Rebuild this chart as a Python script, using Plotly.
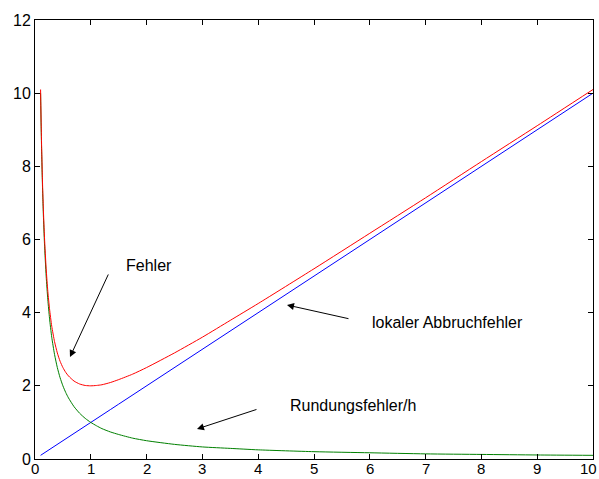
import plotly.graph_objects as go

# step size h and the three error curves
h = [0.1, 0.11, 0.12, 0.13, 0.14, 0.15, 0.17, 0.2, 0.23, 0.26, 0.3, 0.35, 0.4,
     0.45, 0.5, 0.55, 0.6, 0.7, 0.8, 0.9, 1.0, 1.1, 1.2, 1.35, 1.5, 1.75, 2.0,
     2.5, 3.0, 3.5, 4.0, 5.0, 6.0, 7.0, 8.0, 9.0, 10.0]
abbruchfehler = h[:]  # local truncation error
rundungsfehler = [10.0, 9.09, 8.33, 7.69, 7.14, 6.67, 5.88, 5.0, 4.35, 3.85, 3.33,
                  2.86, 2.5, 2.22, 2.0, 1.82, 1.67, 1.43, 1.25, 1.11, 1.0, 0.91,
                  0.83, 0.74, 0.67, 0.57, 0.5, 0.4, 0.33, 0.29, 0.25, 0.2, 0.17,
                  0.14, 0.125, 0.11, 0.1]
fehler = [10.1, 9.2, 8.45, 7.82, 7.28, 6.82, 6.05, 5.2, 4.58, 4.11, 3.63, 3.21,
          2.9, 2.67, 2.5, 2.37, 2.27, 2.13, 2.05, 2.01, 2.0, 2.01, 2.03, 2.09,
          2.17, 2.32, 2.5, 2.9, 3.33, 3.79, 4.25, 5.2, 6.17, 7.14, 8.13, 9.11, 10.1]

x_ticks = [0, 1, 2, 3, 4, 5, 6, 7, 8, 9, 10]
y_ticks = [0, 2, 4, 6, 8, 10, 12]

FONT = "Liberation Sans, Arial, sans-serif"

fig = go.Figure()
fig.add_trace(go.Scatter(x=h, y=abbruchfehler, mode="lines",
                         line=dict(color="#0000ff", width=1)))
fig.add_trace(go.Scatter(x=h, y=rundungsfehler, mode="lines",
                         line=dict(color="#008000", width=1, shape="spline", smoothing=0.6)))
fig.add_trace(go.Scatter(x=h, y=fehler, mode="lines",
                         line=dict(color="#ff0000", width=1, shape="spline", smoothing=0.6)))

# text labels
labels = [
    ("Fehler", 1.595, 5.30),
    ("lokaler Abbruchfehler", 6.0, 3.72),
    ("Rundungsfehler/h", 4.53, 1.45),
]
for txt, lx, ly in labels:
    fig.add_annotation(x=lx, y=ly, text=txt, showarrow=False, xanchor="left",
                       yanchor="middle", font=dict(family=FONT, size=16, color="#000000"))

# arrows: (tail x, tail y, head x, head y)
arrows = [
    (1.326, 5.085, 0.627, 2.788),
    (5.645, 3.827, 4.516, 4.21),
    (3.996, 1.367, 2.903, 0.82),
]
for tx, ty, hx, hy in arrows:
    fig.add_annotation(x=hx, y=hy, ax=tx, ay=ty, xref="x", yref="y",
                       axref="x", ayref="y", text="", showarrow=True,
                       arrowhead=2, arrowsize=1.4, arrowwidth=1, arrowcolor="#000000")

# x tick labels placed tight under the axis so they fit the short bottom strip
for v in x_ticks:
    fig.add_annotation(x=v, y=0, xref="x", yref="paper", text=str(v), showarrow=False,
                       xanchor="right" if v == x_ticks[-1] else "center",
                       xshift=5 if v == x_ticks[-1] else 0,
                       yanchor="top", yshift=0, borderpad=0,
                       font=dict(family=FONT, size=15, color="#000000"))

axis_common = dict(showgrid=False, zeroline=False, showline=True, linecolor="#000000",
                   linewidth=1, mirror="ticks", ticks="inside", ticklen=5,
                   tickcolor="#000000", tickwidth=1, automargin=False,
                   tickfont=dict(family=FONT, size=16, color="#000000"))

fig.update_xaxes(range=[0, 10], tickvals=x_ticks, showticklabels=False, **axis_common)
fig.update_yaxes(range=[0, 12], tickvals=y_ticks, ticktext=[str(v) for v in y_ticks],
                 **axis_common)

fig.update_layout(width=599, height=479, showlegend=False,
                  margin=dict(l=35, r=6, t=20, b=20, autoexpand=False),
                  paper_bgcolor="#ffffff", plot_bgcolor="#ffffff")

fig.write_html("out.html")
